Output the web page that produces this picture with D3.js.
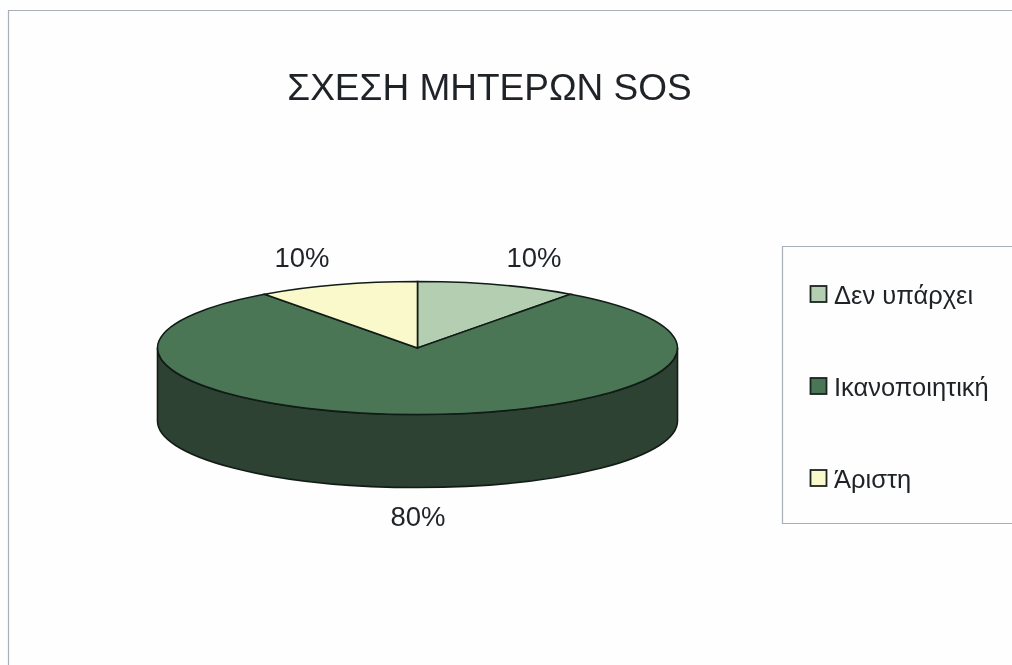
<!DOCTYPE html>
<html>
<head>
<meta charset="utf-8">
<script src="https://cdn.jsdelivr.net/npm/d3@7"></script>
<style>
    html, body { margin: 0; padding: 0; background: #fefefe; overflow: hidden; }
    svg { display: block; filter: blur(0.5px); }
    text { font-family: "Liberation Sans", sans-serif; fill: #1f2328; }
</style>
</head>
<body>
<div id="chart"></div>
<script>
const titleText = "ΣΧΕΣΗ ΜΗΤΕΡΩΝ SOS";
const categories = ["Δεν υπάρχει", "Ικανοποιητική", "Άριστη"];
const shares = [10, 80, 10];
const sliceColors = ["#b4ceb1", "#4a7656", "#f9f9cc"];
const wallColor = "#2e4233";

const width = 1012;
const height = 665;

// Pie is an ellipse, flattened from a unit circle
const cx = 417.5, cy = 348, rx = 260, ry = 66.5, depth = 73;

const svg = d3.select("#chart").append("svg")
    .attr("width", width)
    .attr("height", height);

// Page frame, only top and left show in the scan
svg.append("path")
    .attr("d", d3.line()([[8.5, height], [8.5, 10.5], [width, 10.5]]))
    .attr("fill", "none")
    .attr("stroke", "#a9afb6")
    .attr("stroke-width", 1.2);

svg.append("text")
    .attr("x", 489.5)
    .attr("y", 100)
    .attr("text-anchor", "middle")
    .attr("font-size", 37)
    .text(titleText);

const pie = d3.pie().sort(null).value(d => d)(shares);
const arc = d3.arc().innerRadius(0).outerRadius(1);

const pieGroup = svg.append("g")
    .attr("transform", `translate(${cx},${cy}) scale(${rx},${ry})`);

// Side wall, the front half of the cylinder
const d = depth / ry;
const wall = d3.path();
wall.moveTo(1, 0);
wall.arc(0, 0, 1, 0, Math.PI);
wall.lineTo(-1, d);
wall.arc(0, d, 1, Math.PI, 0, true);
wall.closePath();

pieGroup.append("path")
    .attr("d", wall.toString())
    .attr("fill", wallColor)
    .attr("stroke", "#121c16")
    .attr("stroke-width", 1.6)
    .attr("vector-effect", "non-scaling-stroke");

pieGroup.selectAll("path.slice")
    .data(pie)
    .enter().append("path")
    .attr("class", "slice")
    .attr("d", arc)
    .attr("fill", (s, i) => sliceColors[i])
    .attr("stroke", "#121c16")
    .attr("stroke-width", 1.6)
    .attr("vector-effect", "non-scaling-stroke");

// Data labels sit outside the pie
const labelPos = [[534, 267], [418, 526], [302, 267]];
svg.selectAll("text.label")
    .data(pie)
    .enter().append("text")
    .attr("class", "label")
    .attr("x", (s, i) => labelPos[i][0])
    .attr("y", (s, i) => labelPos[i][1])
    .attr("text-anchor", "middle")
    .attr("font-size", 27.5)
    .text(s => s.value + "%");

// Legend box runs off the right edge
svg.append("path")
    .attr("d", d3.line()([[width, 246.5], [782.5, 246.5], [782.5, 523.5], [width, 523.5]]))
    .attr("fill", "none")
    .attr("stroke", "#a9afb6")
    .attr("stroke-width", 1.2);

const legendY = d3.scalePoint().domain(categories).range([294, 478]);

const legend = svg.selectAll("g.legend")
    .data(categories)
    .enter().append("g")
    .attr("class", "legend")
    .attr("transform", c => `translate(810,${legendY(c)})`);

legend.append("rect")
    .attr("x", 0.5)
    .attr("y", -8)
    .attr("width", 16)
    .attr("height", 16)
    .attr("fill", (c, i) => sliceColors[i])
    .attr("stroke", "#1b2420")
    .attr("stroke-width", 1.8);

legend.append("text")
    .attr("x", 24)
    .attr("y", 10)
    .attr("font-size", 25.5)
    .text(c => c);
</script>
</body>
</html>
